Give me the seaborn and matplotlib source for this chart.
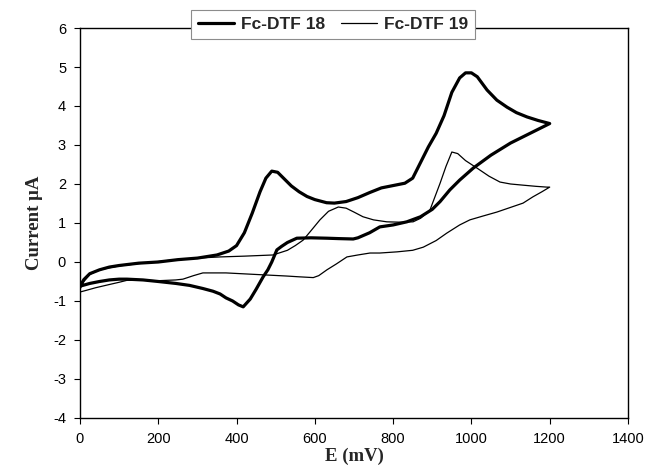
import matplotlib
matplotlib.use("Agg")
import matplotlib.pyplot as plt
import pandas as pd
import seaborn as sns

# Fc-DTF 18 cyclic voltammogram (forward then reverse scan)
e_18 = [0, 10, 25, 50, 75, 100, 150, 200, 250, 300, 350, 380, 400, 420, 440,
        460, 475, 490, 505, 520, 540, 560, 580, 600, 630, 650, 680, 710, 740,
        770, 800, 830, 850, 870, 890, 910, 930, 950, 970, 985, 1000, 1015,
        1040, 1065, 1091, 1115, 1142, 1170, 1200,
        1170, 1140, 1100, 1050, 1005, 970, 945, 920, 900, 870, 835, 800, 766,
        740, 710, 698, 660, 631, 590, 554, 530, 515, 503, 490, 480, 468, 450,
        435, 417, 405, 390, 373, 358, 340, 314, 280, 245, 200, 161, 120, 100,
        75, 50, 25, 0]
i_18 = [-0.62, -0.45, -0.3, -0.2, -0.13, -0.09, -0.03, 0.0, 0.06, 0.1, 0.18,
        0.28, 0.42, 0.75, 1.25, 1.8, 2.15, 2.33, 2.3, 2.15, 1.95, 1.8, 1.68,
        1.6, 1.52, 1.51, 1.55, 1.65, 1.78, 1.9, 1.96, 2.02, 2.15, 2.55, 2.95,
        3.3, 3.75, 4.35, 4.72, 4.85, 4.85, 4.75, 4.41, 4.15, 3.97, 3.83, 3.72,
        3.63, 3.55,
        3.4, 3.25, 3.05, 2.74, 2.41, 2.1, 1.85, 1.55, 1.35, 1.16, 1.03, 0.95,
        0.9, 0.75, 0.62, 0.59, 0.6, 0.61, 0.62, 0.61, 0.5, 0.4, 0.31, 0.0,
        -0.2, -0.38, -0.7, -0.95, -1.15, -1.1, -1.0, -0.92, -0.82, -0.75,
        -0.68, -0.6, -0.55, -0.5, -0.46, -0.44, -0.44, -0.46, -0.5, -0.55,
        -0.62]

# Fc-DTF 19 cyclic voltammogram (forward then reverse scan)
e_19 = [0, 10, 25, 50, 75, 100, 160, 245, 300, 358, 420, 493, 530, 550, 570,
        590, 613, 635, 660, 680, 700, 723, 750, 784, 820, 851, 870, 894, 920,
        935, 950, 965, 985, 1014, 1045, 1073, 1100, 1132, 1165, 1193, 1200,
        1180, 1157, 1132, 1100, 1065, 1030, 996, 970, 937, 910, 877, 850, 810,
        766, 741, 710, 682, 655, 631, 610, 596, 560, 528, 450, 373, 314, 290,
        263, 245, 200, 161, 120, 100, 74, 40, 15, 0]
i_19 = [-0.7, -0.5, -0.32, -0.2, -0.15, -0.1, -0.03, 0.06, 0.1, 0.13, 0.15,
        0.18, 0.3, 0.42, 0.56, 0.8, 1.08, 1.3, 1.41, 1.38, 1.28, 1.16, 1.08,
        1.03, 1.02, 1.03, 1.12, 1.33, 2.02, 2.45, 2.82, 2.78, 2.6, 2.41, 2.2,
        2.05, 2.0, 1.97, 1.94, 1.92, 1.92,
        1.8, 1.67, 1.51, 1.4, 1.28, 1.18, 1.08, 0.95, 0.74, 0.55, 0.38, 0.3,
        0.26, 0.23, 0.23, 0.18, 0.13, -0.05, -0.2, -0.35, -0.4, -0.38, -0.36,
        -0.32, -0.28, -0.28, -0.35, -0.44, -0.46, -0.48, -0.47, -0.47, -0.52,
        -0.58, -0.66, -0.73, -0.77]

x_ticks = [0, 200, 400, 600, 800, 1000, 1200, 1400]
y_ticks = [-4, -3, -2, -1, 0, 1, 2, 3, 4, 5, 6]

sns.set_style("ticks")
plt.rcParams['font.family'] = ['Liberation Sans', 'DejaVu Sans']
plt.rcParams['axes.unicode_minus'] = False

df18 = pd.DataFrame({'E': e_18, 'I': i_18})
df19 = pd.DataFrame({'E': e_19, 'I': i_19})

fig = plt.figure(figsize=(6.47, 4.73), dpi=100)
ax = fig.add_axes([0.1236, 0.1163, 0.8470, 0.8245])

sns.lineplot(data=df18, x='E', y='I', sort=False, estimator=None, ax=ax,
             color='black', linewidth=2.3, label='Fc-DTF 18')
sns.lineplot(data=df19, x='E', y='I', sort=False, estimator=None, ax=ax,
             color='black', linewidth=0.9, label='Fc-DTF 19')

ax.set_xlim(0, 1400)
ax.set_ylim(-4, 6)
ax.set_xticks(x_ticks)
ax.set_yticks(y_ticks)
ax.tick_params(axis='both', labelsize=10.5, length=4, width=0.8, direction='out',
               colors='black', pad=6)
for s in ax.spines.values():
    s.set_color('black')
    s.set_linewidth(1.0)

ax.set_xlabel('E (mV)', family=['Liberation Serif'], fontweight='bold', fontsize=13.5, labelpad=1)
ax.set_ylabel('Current μA', family=['Liberation Serif'], fontweight='bold', fontsize=13.5, labelpad=7)

ax.get_legend().remove()
h, l = ax.get_legend_handles_labels()
leg = fig.legend(h, l, loc='center', bbox_to_anchor=(0.515, 0.949), ncol=2,
                 frameon=True, fancybox=False, framealpha=1, edgecolor='0.55',
                 prop={'family': 'Liberation Sans', 'weight': 'bold', 'size': 12.5},
                 handlelength=2.1, handletextpad=0.4, columnspacing=0.9,
                 borderpad=0.4, borderaxespad=0)
leg.get_frame().set_linewidth(0.8)

fig.savefig('out.png', dpi=100)
